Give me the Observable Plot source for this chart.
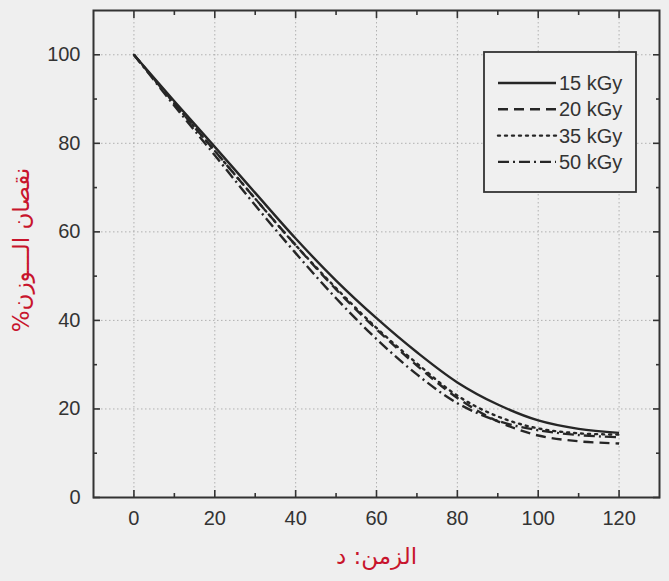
<!DOCTYPE html>
<html><head><meta charset="utf-8">
<script src="https://cdn.jsdelivr.net/npm/d3@7"></script>
<script src="https://cdn.jsdelivr.net/npm/@observablehq/plot@0.6"></script>
<style>
html,body{margin:0;padding:0;background:#efefef;}
#wrap{position:relative;width:669px;height:581px;background:#efefef;font-family:"Liberation Sans",Arial,sans-serif;}
#legend{position:absolute;left:0;top:0;}
</style></head><body><div id="wrap"></div>
<script>
const times = [0,10,20,30,40,50,60,70,80,90,100,110,120];
const loss15 = [100,89.5,79.2,68.8,58.5,49,40.5,32.8,26,21,17.4,15.5,14.6];
const loss20 = [100,89,78.3,67.5,57,47,38,29.8,22.5,17.2,14,12.7,12.2];
const loss35 = [100,89,78.3,67.5,57,47.3,38.3,30.3,23,18.3,15.6,14.5,14.2];
const loss50 = [100,88.5,77.3,66,55.2,45,35.8,27.8,21.3,17.3,15.2,14.1,13.6];
const seriesNames = ["15 kGy","20 kGy","35 kGy","50 kGy"];
const seriesValues = [loss15, loss20, loss35, loss50];
const seriesDash = [null, "10,6", "2,5", "11,4,2,4"];
const xTicks = [0,20,40,60,80,100,120];
const xMinor = [10,30,50,70,90,110];
const yTicks = [0,20,40,60,80,100];
const yMinor = [10,30,50,70,90];
const yLabel = "\u200Fنقصان الـــوزن%\u200F";
const xLabel = "\u200Fالزمن: د\u200F";

const ink = "#262626";
const red = "#c8142c";

const lineMarks = seriesValues.map((vals, i) => Plot.line(times.map((t, j) => ({t, v: vals[j]})), {
  x: "t", y: "v", curve: "catmull-rom", stroke: ink, strokeWidth: 2.4,
  strokeDasharray: seriesDash[i], strokeLinecap: i === 2 ? "round" : "butt"
}));

const chart = Plot.plot({
  width: 669, height: 581,
  marginLeft: 93, marginRight: 10, marginTop: 10, marginBottom: 84,
  style: {background: "transparent", fontFamily: "'Liberation Sans', Arial, sans-serif", color: "#333"},
  x: {domain: [-10, 130], label: null},
  y: {domain: [0, 110], label: null},
  marks: [
    Plot.gridX(xTicks, {stroke: "#888", strokeOpacity: 0.6, strokeDasharray: "1.5,2.5"}),
    Plot.gridY(yTicks, {stroke: "#888", strokeOpacity: 0.6, strokeDasharray: "1.5,2.5"}),
    ...lineMarks,
    Plot.axisX(xTicks, {anchor: "bottom", tickSize: 7, dy: -7, fill: "none", stroke: "#333", strokeWidth: 1.6, label: null}),
    Plot.axisX(xMinor, {anchor: "bottom", tickSize: 4, dy: -4, fill: "none", stroke: "#333", strokeWidth: 1.6, label: null}),
    Plot.axisX(xTicks, {anchor: "top", tickSize: 7, dy: 7, fill: "none", stroke: "#333", strokeWidth: 1.6, label: null}),
    Plot.axisX(xMinor, {anchor: "top", tickSize: 4, dy: 4, fill: "none", stroke: "#333", strokeWidth: 1.6, label: null}),
    Plot.axisY(yTicks, {anchor: "left", tickSize: 7, dx: 7, fill: "none", stroke: "#333", strokeWidth: 1.6, label: null}),
    Plot.axisY(yMinor, {anchor: "left", tickSize: 4, dx: 4, fill: "none", stroke: "#333", strokeWidth: 1.6, label: null}),
    Plot.axisY(yTicks, {anchor: "right", tickSize: 7, dx: -7, fill: "none", stroke: "#333", strokeWidth: 1.6, label: null}),
    Plot.axisY(yMinor, {anchor: "right", tickSize: 4, dx: -4, fill: "none", stroke: "#333", strokeWidth: 1.6, label: null}),
    Plot.axisX(xTicks, {anchor: "bottom", tickSize: 0, tickPadding: 13, fontSize: 20, fill: "#333", label: null}),
    Plot.axisY(yTicks, {anchor: "left", tickSize: 0, tickPadding: 13, fontSize: 20, fill: "#333", label: null}),
    Plot.frame({stroke: "#333", strokeWidth: 2}),
    Plot.text([yLabel], {frameAnchor: "left", textAnchor: "middle", dx: -72, dy: -4, rotate: -90, fill: red, fontSize: 23, fontFamily: "DejaVu Sans"}),
    Plot.text([xLabel], {frameAnchor: "bottom", dy: 66, fill: red, fontSize: 23, fontFamily: "DejaVu Sans"})
  ]
});
const wrap = document.getElementById("wrap");
wrap.appendChild(chart);

// legend overlay
const lg = d3.select(wrap).append("svg").attr("id", "legend").attr("width", 669).attr("height", 581);
const box = {x: 484, y: 52, w: 152, h: 140};
lg.append("rect").attr("x", box.x).attr("y", box.y).attr("width", box.w).attr("height", box.h)
  .attr("fill", "#f0f0f0").attr("stroke", "#333").attr("stroke-width", 1.8);
seriesNames.forEach((name, i) => {
  const yy = 83 + i * 26.3;
  lg.append("line").attr("x1", 498).attr("x2", 556).attr("y1", yy).attr("y2", yy)
    .attr("stroke", ink).attr("stroke-width", 2.4)
    .attr("stroke-dasharray", seriesDash[i])
    .attr("stroke-linecap", i === 2 ? "round" : "butt");
  lg.append("text").attr("x", 559).attr("y", yy).attr("dy", "0.35em")
    .attr("font-size", 20).attr("fill", "#333")
    .attr("font-family", "'Liberation Sans', Arial, sans-serif").text(name);
});
</script></body></html>
